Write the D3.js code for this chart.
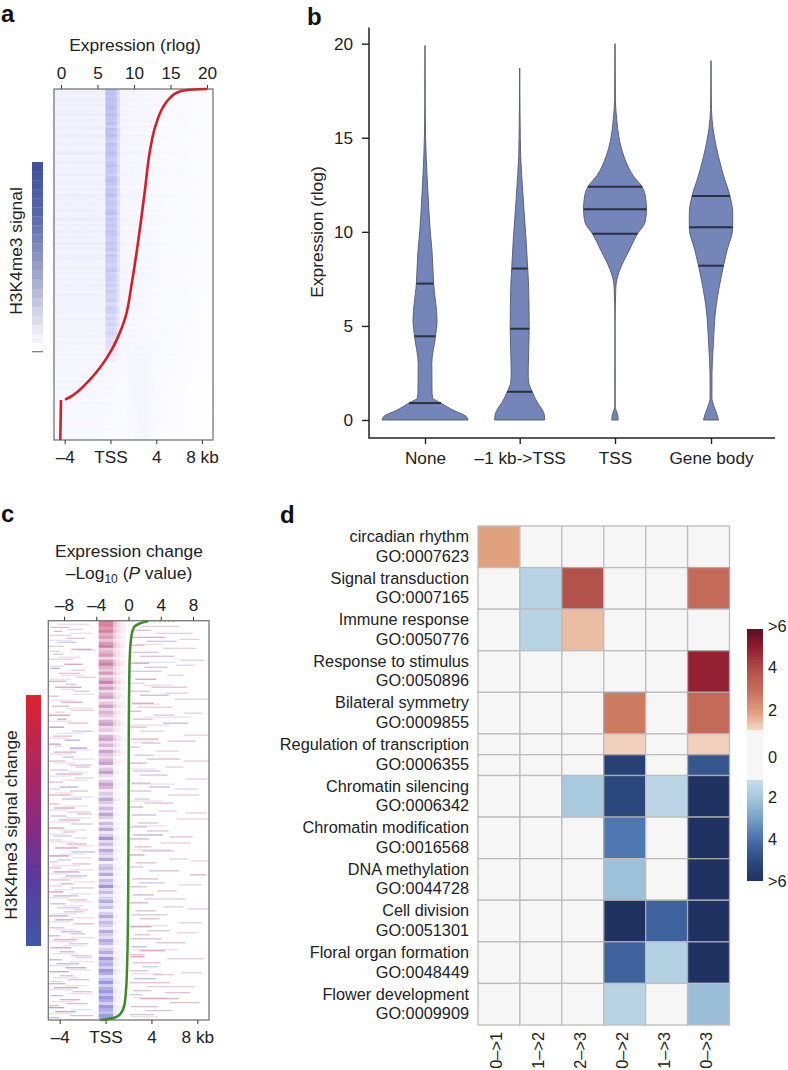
<!DOCTYPE html>
<html><head><meta charset="utf-8">
<script src="https://cdn.jsdelivr.net/npm/d3@7"></script>
<style>
html,body{margin:0;padding:0;background:#fff}
svg{display:block}
text{font-family:"Liberation Sans",Arial,sans-serif;fill:#222;font-size:17.4px}
.tick text{font-family:"Liberation Sans",Arial,sans-serif;fill:#222}
</style></head><body>
<svg id="c" width="788" height="1070"></svg>
<script>
// ---------- Panel a ----------
const aTopTicks=[0,5,10,15,20];
const kbTicks=[-4,0,4,8];
const kbLabels=["–4","TSS","4","8 kb"];
const redRank=[0,0.3,0.9,2.6,5.1,10.8,17.4,28.8,43,55.3,65.2,70.7,75.2,79.5,83.8,87.4,88.5];
const redExpr=[20,17.3,16,14.9,14,12.9,12.2,11.5,10.6,9.7,8.8,7.8,6.7,5.3,3.5,1.5,0.55];
const redTailRank=[88.6,100];
const redTailExpr=[0,-0.1];
const aTssLevel=[9,9,8,9,8,9,9,8,9,8,8,9,7,9,8,9,8,7,9,8,8,9,8,7,8,9,8,8,7,8,9,8,7,8,8,9,7,8,8,7,8,9,7,8,7,8,7,8,8,7,7,8,7,8,6,8,7,7,6,7,8,6,7,7,6,7,6,7,6,6,7,5,6,7,6,5,6,5,6,5,5,6,5,4,5,4,4,3,3,2,2,1,1,1,0,0,0,0,0,0,0,0,0,0,0,0,0,0,0,0,0,0,0,0,0,0,0];
const aFlankLevel=[2,2,1.6,2,1.8,2.2,1.7,2,2.3,1.8,2,1.6,2.2,1.9,1.6,2.3,2,1.7,2.1,1.6,2,2.4,1.7,1.9,2.2,1.6,2,1.8,2.3,1.7,1.9,2.2,1.6,2,1.7,2.4,1.9,1.6,2.1,1.8,2.2,1.6,2,2.3,1.7,1.9,1.6,2.2,1.8,2,1.6,2.3,1.8,2,1.6,1.9,2.2,1.7,1.8,2,1.5,2.1,1.7,1.9,1.6,2,1.7,1.5,2,1.8,1.6,1.9,1.5,1.8,1.6,1.4,1.9,1.5,1.7,1.4,1.8,1.5,1.6,1.3,1.7,1.4,1.5,1.2,1.6,1.3,1.4,1.2,1.4,1.1,1.3,1.2,1,1.3,1.1,1.2,1,1.2,1.1,0.9,1.2,1,1.1,0.9,1.1,1,0.9,1.1,0.9,1,1,0.9,1];
const aFlankKb=[-5.1,-1,-0.6,1,3,5,7,9.3];
const aFlankWeight=[1,1,0.95,0.75,0.6,0.42,0.25,0.12];
const aBandKb=[-0.62,-0.58,0.25,0.55,0.9];
const aBandWeight=[0,1,1,0.6,0];
const aBumpKb=[1.2,2.7,4.4];
const aBumpWeight=[0,1,0];
const aBumpRank=[70,82,100];
const aBumpLevel=[0,1,0.9];
// ---------- Panel b ----------
const violinCats=["None","–1 kb->TSS","TSS","Gene body"];
const yTicksB=[0,5,10,15,20];
const violinValues=[
 [0,0.2,0.5,0.9,1.2,1.6,3,4.45,5.3,7.2,9,10,12,14,15,17,19.9],
 [0,0.3,0.5,1,1.5,2,2.5,4.85,7,8.05,9.5,11,13,14,15,17,18.7],
 [0,0.3,0.7,5,7,7.5,8,9,9.9,10.5,11.2,12,12.4,13,14,15,16,17,20],
 [0,0.3,0.8,1.2,2.5,4,6,7,8.2,9,10.2,11,11.9,13,14,15,16,17,19.1]];
const violinHalf=[
 [43,41,29,16,7.5,7,6.8,10.5,12,8.7,7,5.3,3,1.2,0.6,0.2,0.1],
 [25,24.5,23,17,12.5,9,8.5,9.5,9,8,6.5,4.5,2,1,0.6,0.2,0.1],
 [3.2,2.6,0.2,0.1,0.8,2,5,14,22.5,30,31.5,30,27,18,9,4,1.7,0.4,0.1],
 [7.5,6,2.5,0.9,1,2.3,5,8,12.5,16,21.7,21.7,19,12.5,7.5,3.5,1,0.3,0.1]];
const violinQuart=[[0.9,4.45,7.25],[1.5,4.85,8.05],[9.9,11.2,12.4],[8.2,10.25,11.9]];
// ---------- Panel c ----------
const cTopTicks=[-8,-4,0,4,8];
const greenRank=[0.1,0.65,1.9,4.8,11.5,30,52,69,85.5,92.3,96.4,98.5,99.5,100];
const greenExpr=[2.47,1.45,0.62,0.3,0.12,0.03,0,-0.04,-0.16,-0.3,-0.53,-1.03,-1.85,-3.5];
const greenDots=[2.9,3.3,3.9,4.5,5,5.6];
const cBandLevel=[9,9,8,9,7,8,6,8,9,6,7,8,5,8,9,7,6,8,5,7,9,6,8,5,7,8,4,6,8,5,7,6,4,7,8,5,6,3,7,8,5,7,4,8,6,5,7,8,4,6,8,5,3,6,8,7,4,6,5,8,6,4,7,5,8,6,3,7,5,8,4,6,9,5,7,4,8,6,5,8,3,6,7,5,8,4,7,6,9,5,7,4,6,8,5,7,3,6,8,5,7,6,4,8,6,5,8,7,4,6,8,5,9,7,8,6,9,8,5,7,9,6,8,9,7,9,8,6,9,8,7,9,8];
const cBandSignal=[10,10,9,9,9,8,8,8,7,7,8,7,7,6,7,6,6,7,6,5,6,6,5,5,6,4,5,5,4,5,4,4,5,3,4,4,3,4,3,3,4,2,3,3,2,3,2,3,1,2,2,1,2,1,2,1,1,0,1,0,1,-1,0,-1,0,0,-2,-1,-1,-2,0,-2,-2,-1,-3,-2,-2,-1,-3,-2,-3,-2,-3,-4,-2,-3,-3,-4,-3,-2,-4,-3,-4,-3,-5,-3,-4,-4,-3,-5,-4,-5,-4,-3,-5,-4,-5,-6,-5,-4,-6,-5,-6,-5,-7,-6,-6,-5,-7,-6,-7,-6,-7,-8,-7,-7,-8,-8,-7,-8,-8,-9,-9];
const cBandFadeKb=[0.65,0.95,1.3,1.75];
const cBandFade=[0.5,0.3,0.14];
const cLeft=[[6,-4.8,-3.2,3],[10,-4.5,-3.8,-4],[14,-4.9,-3,2],[17,-3.4,-1.8,3],[21,-4.2,-2.5,-3],[25,-5,-3.6,2],[28,-3,-1.2,4],[33,-4.6,-3.7,-3],[38,-4.9,-2.8,2],[43,-3.6,-2,5],[47,-4.8,-4,-5],[52,-4.1,-2.2,3],[56,-2.6,-0.9,2],[60,-5,-3.4,4],[66,-4.4,-2.1,5],[70,-2.8,-1.4,-3],[75,-5,-4.1,3],[81,-3.9,-2,4],[85,-4.7,-3.2,-4],[89,-3,-1,2],[94,-5,-3.1,5],[98,-4.2,-3.4,-5],[102,-3.3,-1.5,3],[106,-4.9,-3.6,6],[110,-2.9,-1.1,-3],[115,-4.6,-2.9,3],[119,-3.6,-2.2,-5],[123,-5,-3.9,5],[127,-3.1,-1.6,-6],[131,-4.5,-2.6,4],[136,-3.7,-2.8,-4],[140,-5,-3.5,3],[144,-3.2,-1.2,3],[149,-4.8,-3.3,-3],[153,-4.3,-2,4],[157,-2.7,-1,-2],[161,-5,-3.7,3],[166,-4,-2.4,-5],[170,-3.1,-1.5,3],[174,-4.9,-3,4],[178,-3.8,-2.1,-4],[183,-5,-4,3],[187,-4.5,-2.7,5],[191,-3.3,-1.3,2],[195,-4.8,-3.4,-4],[199,-4.1,-2.2,4],[203,-3,-1.1,-3],[207,-5,-3.6,5],[211,-3.7,-2.6,3],[215,-4.6,-2.9,-3],[219,-4.9,-3.8,2],[223,-3.4,-1.7,4],[227,-4.4,-2.4,5],[231,-3,-0.9,-4],[235,-4.9,-3.2,6],[239,-4.2,-3,-3],[243,-2.9,-1.3,3],[247,-5,-3.9,3],[251,-4.5,-2.3,5],[255,-3.5,-1.6,-4],[259,-4.9,-3.1,3],[263,-3.9,-2.8,4],[267,-3,-1,-3],[271,-5,-3.7,5],[275,-4.6,-2.4,-4],[279,-3.3,-1.6,3],[283,-4.8,-3.5,4],[287,-4.2,-2.2,-3],[291,-3.6,-1.9,3],[295,-5,-3.3,5],[299,-4.4,-2.8,-5],[303,-2.8,-1,3],[307,-4.9,-3.6,3],[311,-3.9,-2.1,-4],[315,-5,-4,4],[319,-4.5,-2.5,4],[323,-3.2,-1.5,-3],[327,-4.8,-3,5],[331,-4,-2.7,-4],[335,-3,-1.2,3],[339,-5,-3.8,-4],[343,-4.3,-2.3,4],[347,-3.5,-1.7,-5],[351,-4.9,-3.2,5],[355,-4,-2.8,3],[359,-3.3,-1.4,-3],[363,-5,-3.5,4],[367,-4.5,-2.4,-5],[371,-2.9,-1.2,3],[375,-4.8,-3.7,-4],[379,-4,-2.2,4],[383,-3.4,-1.6,3],[387,-5,-3.6,-6],[391,-4.4,-2.6,5],[395,-3.1,-1.1,3],[397,-4.9,-4,-4],
[8,-3.2,-2,2],[30,-4.8,-4,2],[49,-3,-1.8,2],[63,-3.5,-2.6,-3],[91,-4.4,-3.6,2],[125,-4.4,-3.8,2],[146,-2.6,-1.4,-3],[168,-4.9,-4,2],[193,-2.5,-1.2,3],[217,-2.8,-1.6,-2],[241,-4.9,-4.2,3],[265,-4.9,-3.8,2],[289,-2.8,-1.5,2],[313,-3,-1.8,3],[337,-2.6,-1.2,-2],[361,-4.8,-3.8,2],[385,-4.9,-4.1,3]];
const cRight=[[5,3.1,6.4,2],[9,2.2,4,3],[12,4.4,7.6,2],[16,2.3,5.2,4],[20,3.6,6.2,-3],[24,2.1,3.4,3],[27,5,7.9,2],[31,2.4,4.6,-3],[35,3,6,3],[39,6.5,8.6,2],[42,2.2,3.8,4],[46,3.4,5.4,3],[50,2.1,4.9,-3],[54,5.4,6.8,2],[58,2.6,4.4,5],[62,2.2,3.4,-2],[66,4,7.1,3],[70,2.1,3.8,3],[74,3,5.5,-4],[78,6,9,2],[82,2.3,4.2,4],[86,2.8,5.8,2],[90,2.1,3.1,-4],[94,4.2,6,3],[98,2.4,4.1,3],[102,5,7.2,-4],[106,2.1,3.6,3],[110,3,5.1,-2],[114,6.8,9,2],[118,2.2,4.6,4],[122,3.2,4.8,-3],[126,2.1,3,3],[130,4.4,6.4,2],[134,2.5,4.2,-3],[138,3.6,6.5,3],[142,2.1,3.6,4],[146,5.2,6.8,2],[150,2.4,4.8,-3],[154,3,5.4,3],[158,7,8.9,2],[162,2.2,3.9,3],[166,3.8,5.6,-4],[170,2.1,4,3],[174,5.4,8.2,2],[178,2.5,3.8,-3],[182,3.4,5.9,3],[186,2.1,3.3,4],[190,4.6,6.2,2],[194,2.3,4.4,-4],[198,6.2,9.2,2],[202,2.8,4.6,3],[206,2.1,3.6,-3],[210,3.6,5.5,3],[214,2.4,5,-5],[218,2.1,3.8,4],[222,4.8,7.4,2],[226,2.5,4,3],[230,3.2,6,-3],[234,2.1,3.4,5],[238,5.6,7.2,2],[242,2.6,4.4,3],[246,2.1,3.3,-3],[250,3.8,6.4,3],[254,7.4,8.8,4],[258,2.3,4.6,3],[262,2.9,5.2,-3],[266,2.1,3.6,3],[270,4.5,6.2,3],[274,2.4,4.2,-4],[278,3.4,7,2],[282,2.1,3.7,4],[286,5,6.8,2],[290,2.6,4.4,3],[294,2.2,5.4,-3],[298,3,4.7,3],[302,6.4,8.4,2],[306,2.1,4,4],[310,3.6,5.6,-3],[314,2.5,3.9,3],[318,2.1,4.9,3],[322,4.4,7,3],[326,2.3,3.6,-4],[330,3,5.2,4],[334,2.1,3.4,3],[338,5.4,8.6,2],[342,2.4,4.8,3],[346,3.2,4.6,-3],[350,2.1,3.7,3],[354,4.2,6,2],[358,2.5,4.4,-4],[362,2.1,5.6,3],[366,3.6,7.8,2],[370,2.4,4,3],[374,2.1,3.2,-3],[378,3,6.4,4],[382,5.6,8.2,3],[386,2.2,4.6,3],[390,3.4,5.8,-3],[394,2.1,4.2,3],
[18,6.5,8.2,2],[44,6.2,7.8,-2],[72,5.2,7.2,2],[92,6.8,8.4,2],[120,5.4,7.8,3],[140,6.8,9.2,2],[168,6,8,-2],[192,7,8.8,2],[216,5.6,7.6,3],[240,7.4,9,2],[264,6.4,8.4,-2],[288,7.2,9.1,2],[312,6.2,8,2],[336,2.2,3.4,5],[352,6.6,8.4,2],[372,5.2,7.4,3]];
const cFaint=[[3,-4.2,-1.4,1],[12,-3.1,-1.1,1],[19,-5,-2.9,-1],[23,2.6,5,1],[29,-2.5,-0.8,1],[36,-4.1,-2.2,1],[41,2.4,6.2,-1],[45,-5,-3.6,1],[54,-3.9,-1.9,-1],[58,-4.9,-3,1],[64,3.2,5.8,1],[68,-4,-2.6,1],[73,-2.9,-1,-1],[79,-4.8,-2.7,1],[83,2.2,4.8,1],[87,-3.4,-1.2,1],[96,3.4,7.4,-1],[100,-5,-2.9,1],[104,2.2,5.6,1],[112,-4.3,-1.8,-1],[117,-5,-3.2,1],[121,2.4,4.2,1],[129,-3.2,-1.2,1],[133,-4.8,-2.9,1],[138,-3,-0.9,-1],[142,-4.5,-2.7,1],[148,2.2,4.4,1],[151,-3.3,-1.5,1],[155,-4.9,-3,-1],[159,-3.8,-1.6,1],[163,2.3,6,1],[172,-4.4,-2.8,1],[176,-3,-1,-1],[180,2.2,5,1],[185,-3.6,-1.5,1],[189,-5,-3.3,1],[197,-3.5,-1.3,-1],[201,-4.9,-2.6,1],[205,2.4,5.2,1],[209,-4.2,-1.7,1],[213,-5,-3.4,-1],[221,-4.8,-2.7,1],[225,-3.1,-1,1],[229,2.3,5.6,1],[233,-4,-1.8,-1],[237,-3,-1.2,1],[245,-4.6,-2.2,1],[249,-3.2,-1,1],[253,-5,-3.3,-1],[257,-4,-2,1],[261,-2.8,-0.9,1],[269,-4.5,-2.7,1],[273,-3.1,-1.3,-1],[277,-5,-3.2,1],[281,-2.9,-1.1,1],[285,-3.7,-1.9,1],[293,-4.7,-2.5,-1],[297,-3.1,-1,1],[301,-5,-3.1,1],[305,2.2,5.4,1],[309,-4.5,-2.6,-1],[317,-3,-1,1],[321,-4.9,-2.8,1],[325,-3.7,-1.8,-1],[329,2.5,6.4,1],[333,-4.7,-2.4,1],[341,-3.1,-1,1],[345,-5,-3.1,-1],[349,-3.2,-1.3,1],[353,2.3,5,1],[357,-4.6,-2.4,1],[365,-3.5,-1.6,-1],[369,-5,-2.9,1],[373,-3.2,-1.1,1],[377,2.4,5.4,1],[381,-4.7,-2.7,1],[389,-3,-1.2,-1],[393,-5,-2.9,1],[396,2.2,4.6,1],[399,-3.6,-1.4,1]];
// ---------- Panel d ----------
const goLabels=["circadian rhythm","Signal transduction","Immune response","Response to stimulus","Bilateral symmetry","Regulation of transcription","Chromatin silencing","Chromatin modification","DNA methylation","Cell division","Floral organ formation","Flower development"];
const goIds=["GO:0007623","GO:0007165","GO:0050776","GO:0050896","GO:0009855","GO:0006355","GO:0006342","GO:0016568","GO:0044728","GO:0051301","GO:0048449","GO:0009909"];
const transitions=["0–>1","1–>2","2–>3","0–>2","1–>3","0–>3"];
const rowHeights=[1,1,1,1,1,0.5,0.5,1,1,1,1,1,1];
const matrix=[
 [2,0,0,0,0,0],
 [0,-1.6,4,0,0,3.2],
 [0,-1.6,1.6,0,0,0],
 [0,0,0,0,0,5],
 [0,0,0,2.8,0,3.2],
 [0,0,0,1.3,0,1.3],
 [0,0,0,-5.4,0,-4.7],
 [0,0,-2,-5.2,-1.5,-6],
 [0,0,0,-3.9,0,-6],
 [0,0,0,-2.2,0,-6],
 [0,0,0,-6,-4.4,-6],
 [0,0,0,-4.4,-1.7,-6],
 [0,0,0,-1.6,0,-2.3]];
const cbarTicks=[[6,">6"],[4,"4"],[2,"2"],[0,"0"],[-2,"2"],[-4,"4"],[-6,">6"]];
const divergeStops=[-6,-5,-4,-3,-2,-1.21,-1.2,1.2,1.21,2,3,4,5,6];
const divergeColors=["#1f3262","#2d4b80","#4a72ae","#78a3c9","#a8c9de","#c8dcea","#f6f6f6","#f6f6f6","#f3d6c5","#e0a17f","#c8705c","#b2534b","#952032","#5a0f25"];

const svg=d3.select("#c");
const boxGray="#777", tickSize=17.2;
const defs=svg.append("defs");
defs.append("filter").attr("id","soft").attr("x","-5%").attr("y","-5%").attr("width","110%").attr("height","110%")
  .append("feGaussianBlur").attr("stdDeviation","0.7 0.4");
function clip(id,x,y,w,h){defs.append("clipPath").attr("id",id).append("rect").attr("x",x).attr("y",y).attr("width",w).attr("height",h);}
function panelLabel(t,x,y){svg.append("text").attr("x",x).attr("y",y).style("font-size","24px").style("font-weight","700").style("fill","#111").text(t);}
function styleAxis(g){g.select(".domain").remove();g.selectAll(".tick line").attr("stroke","#444").attr("stroke-width",1.1);g.selectAll(".tick text").style("font-size",tickSize+"px");}
function rotated(t,x,y){svg.append("text").attr("transform",`translate(${x},${y}) rotate(-90)`).attr("text-anchor","middle").attr("dominant-baseline","central").text(t);}

panelLabel("a",1,22);panelLabel("b",307,25);panelLabel("c",1,522);panelLabel("d",280,523);

// ---- A ----
const aBox={x:54,y:89,w:159,h:351};
clip("clipA",aBox.x,aBox.y,aBox.w,aBox.h);
const aExpr=d3.scaleLinear().domain([0,20]).range([61,207]);
const aKb=d3.scaleLinear().domain([-4,8]).range([64.7,202]);
const aRank=d3.scaleLinear().domain([0,100]).range([aBox.y,aBox.y+aBox.h]);
const aRowY=d3.scaleLinear().domain([0,aTssLevel.length]).range([aBox.y,aBox.y+aBox.h]);
const aColor=d3.scaleLinear().domain([0,10]).range(["#ffffff","#b2b6f0"]);
const flankW=d3.scaleLinear().domain(aFlankKb).range(aFlankWeight).clamp(true);
const bandW=d3.scaleLinear().domain(aBandKb).range(aBandWeight).clamp(true);
const bumpW=d3.scaleLinear().domain(aBumpKb).range(aBumpWeight).clamp(true);
const bumpR=d3.scaleLinear().domain(aBumpRank).range(aBumpLevel).clamp(true);
const aCols=d3.range(aKb.invert(aBox.x),aKb.invert(aBox.x+aBox.w)+0.1,0.25);
const aHeat=svg.append("g").attr("clip-path","url(#clipA)").append("g").attr("filter","url(#soft)");
aTssLevel.forEach((lv,i)=>{
  aCols.forEach(k=>{
    const pct=i/aTssLevel.length*100;
    const v=Math.max(lv*bandW(k),aFlankLevel[i]*flankW(k))+0.9*bumpR(pct)*bumpW(k);
    aHeat.append("rect").attr("x",aKb(k)).attr("y",aRowY(i)).attr("width",aKb(0.25)-aKb(0)+0.4).attr("height",aRowY(1)-aRowY(0)+0.4).attr("fill",aColor(v));
  });
});
svg.append("rect").attr("x",aBox.x).attr("y",aBox.y).attr("width",aBox.w).attr("height",aBox.h).attr("fill","none").attr("stroke",boxGray).attr("stroke-width",1.3);
const redLine=d3.line().curve(d3.curveMonotoneY);
const redPts=redRank.map((r,i)=>[aExpr(redExpr[i]),aRank(r)]);
svg.append("path").attr("d",redLine(redPts)).attr("fill","none").attr("stroke","#d0202b").attr("stroke-width",2.6);
svg.append("path").attr("d",d3.line()(redTailRank.map((r,i)=>[aExpr(redTailExpr[i]),aRank(r)]))).attr("fill","none").attr("stroke","#d0202b").attr("stroke-width",2.6);
let g=svg.append("g").attr("transform",`translate(0,${aBox.y})`).call(d3.axisTop(aExpr).tickValues(aTopTicks).tickSize(4).tickPadding(6).tickFormat(d3.format("d")));styleAxis(g);
g=svg.append("g").attr("transform",`translate(0,${aBox.y+aBox.h})`).call(d3.axisBottom(aKb).tickValues(kbTicks).tickSize(4).tickPadding(7).tickFormat((d,i)=>kbLabels[i]));styleAxis(g);
svg.append("text").attr("x",135).attr("y",45).attr("text-anchor","middle").attr("dominant-baseline","central").text("Expression (rlog)");
rotated("H3K4me3 signal",16,251);
const aBar=d3.scaleLinear().domain([0,1]).range([162,343]);
const aBarColor=d3.scaleLinear().domain([0,0.25,0.6,0.92,1]).range(["#3f5299","#5766a8","#a0a6cd","#eeeef6","#fbfbfd"]);
d3.range(0,1,0.05).forEach(t=>svg.append("rect").attr("x",32).attr("y",aBar(t)).attr("width",11).attr("height",aBar(0.05)-aBar(0)+0.3).attr("fill",aBarColor(t)));
svg.append("line").attr("x1",32).attr("x2",43).attr("y1",351.7).attr("y2",351.7).attr("stroke","#777").attr("stroke-width",1.2);

// ---- B ----
const bY=d3.scaleLinear().domain([0,20]).range([420,43.7]);
const bX=d3.scaleOrdinal().domain(violinCats).range([425,519.7,615,711]);
violinCats.forEach((c,i)=>{
  const vals=violinValues[i],hw=violinHalf[i],cx=bX(c);
  const pts=vals.map((v,j)=>({v,h:hw[j]}));
  const area=d3.area().curve(d3.curveMonotoneY).y(d=>bY(d.v)).x0(d=>cx-d.h).x1(d=>cx+d.h);
  svg.append("path").attr("d",area(pts)+"Z").attr("fill","#7385b9").attr("stroke","#555a6c").attr("stroke-width",0.9).attr("stroke-linejoin","round");
  const hs=d3.scaleLinear().domain(vals).range(hw);
  violinQuart[i].forEach(q=>svg.append("line").attr("x1",cx-hs(q)).attr("x2",cx+hs(q)).attr("y1",bY(q)).attr("y2",bY(q)).attr("stroke","#2b303e").attr("stroke-width",2));
});
g=svg.append("g").attr("transform","translate(369,0)").call(d3.axisLeft(bY).tickValues(yTicksB).tickSize(7).tickPadding(9).tickFormat(d3.format("d")));styleAxis(g);
g.selectAll(".tick line").attr("stroke","#222").attr("stroke-width",1.4);
g=svg.append("g").attr("transform","translate(0,438)").call(d3.axisBottom(bX).tickValues(violinCats).tickSize(6).tickPadding(8));styleAxis(g);
g.selectAll(".tick line").attr("stroke","#222").attr("stroke-width",1.4);
svg.append("path").attr("d",d3.line()([[369,27.5],[369,438],[775,438]])).attr("fill","none").attr("stroke","#222").attr("stroke-width",1.5);
rotated("Expression (rlog)",317,232);

// ---- C ----
const cBox={x:48.3,y:620.7,w:160.7,h:399.3};
clip("clipC",cBox.x,cBox.y,cBox.w,cBox.h);
const cExpr=d3.scaleLinear().domain([-8,8]).range([64,193]);
const cKb=d3.scaleLinear().domain([-4,8]).range([59.7,197.3]);
const cRank=d3.scaleLinear().domain([0,400]).range([cBox.y,cBox.y+cBox.h]);
const cPct=d3.scaleLinear().domain([0,100]).range([cBox.y,cBox.y+cBox.h]);
const cBandY=d3.scaleLinear().domain([0,cBandLevel.length]).range([cBox.y,cBox.y+cBox.h]);
const sigColor=d3.scaleLinear().domain([-10,-3,2,10]).range(["#5a5fd0","#6f50b8","#8e3f98","#c0305f"]);
const cHeat=svg.append("g").attr("clip-path","url(#clipC)").append("g").attr("filter","url(#soft)");
cBandLevel.forEach((lv,i)=>{
  const col=sigColor(cBandSignal[i]);
  const a=(lv/9)*(lv/9)*0.62;
  cHeat.append("rect").attr("x",cKb(-0.6)).attr("y",cBandY(i)).attr("width",cKb(0.65)-cKb(-0.6)).attr("height",cBandY(1)-cBandY(0)+0.1).attr("fill",col).attr("fill-opacity",a);
  cBandFade.forEach((f,j)=>{
    cHeat.append("rect").attr("x",cKb(cBandFadeKb[j])).attr("y",cBandY(i)).attr("width",cKb(cBandFadeKb[j+1])-cKb(cBandFadeKb[j])).attr("height",cBandY(1)-cBandY(0)+0.1).attr("fill",col).attr("fill-opacity",a*f*(i<45?1:0.5));
  });
});
cLeft.concat(cRight,cFaint).forEach(([r,s,e,v])=>{
  cHeat.append("rect").attr("x",cKb(s)).attr("y",cRank(r)).attr("width",cKb(e)-cKb(s)).attr("height",1.3).attr("fill",sigColor(v>0?7:-6)).attr("fill-opacity",0.1+Math.abs(v)*0.075);
});
svg.append("rect").attr("x",cBox.x).attr("y",cBox.y).attr("width",cBox.w).attr("height",cBox.h).attr("fill","none").attr("stroke",boxGray).attr("stroke-width",1.3);
const greenPts=greenRank.map((r,i)=>[cExpr(greenExpr[i]),cPct(r)]);
svg.append("path").attr("d",d3.line().curve(d3.curveMonotoneY)(greenPts)).attr("fill","none").attr("stroke","#3f8a2a").attr("stroke-width",2.5);
greenDots.forEach(e=>svg.append("circle").attr("cx",cExpr(e)).attr("cy",cBox.y+0.8).attr("r",0.8).attr("fill","#7faa70"));
g=svg.append("g").attr("transform",`translate(0,${cBox.y})`).call(d3.axisTop(cExpr).tickValues(cTopTicks).tickSize(4).tickPadding(6).tickFormat(d=>d<0?"–"+(-d):d));styleAxis(g);
g=svg.append("g").attr("transform",`translate(0,${cBox.y+cBox.h})`).call(d3.axisBottom(cKb).tickValues(kbTicks).tickSize(4).tickPadding(7).tickFormat((d,i)=>kbLabels[i]));styleAxis(g);
svg.append("text").attr("x",129).attr("y",551).attr("text-anchor","middle").attr("dominant-baseline","central").text("Expression change");
const tl=svg.append("text").attr("x",129).attr("y",579).attr("text-anchor","middle");
tl.append("tspan").text("–Log");
tl.append("tspan").attr("dy",4).style("font-size","12px").text("10");
tl.append("tspan").attr("dy",-4).text(" (");
tl.append("tspan").style("font-style","italic").text("P");
tl.append("tspan").text(" value)");
rotated("H3K4me3 signal change",11,825);
const cBar=d3.scaleLinear().domain([0,1]).range([695,946]);
const cBarColor=d3.scaleLinear().domain([0,0.5,0.72,1]).range(["#dc2430","#8c2a80","#5b3a9c","#3f58a8"]);
d3.range(0,1,0.01).forEach(t=>svg.append("rect").attr("x",26).attr("y",cBar(t)).attr("width",15).attr("height",cBar(0.01)-cBar(0)+0.4).attr("fill",cBarColor(t)).attr("shape-rendering","crispEdges"));

// ---- D ----
const dFont="16.3px";
const dX=d3.scaleBand().domain(transitions).range([478,729.5]);
const cum=d3.cumsum(rowHeights);
const dY=d3.scaleLinear().domain([0,12]).range([526,1025]);
const divColor=d3.scaleLinear().domain(divergeStops).range(divergeColors);
matrix.forEach((row,i)=>{
  const top=i?cum[i-1]:0;
  row.forEach((v,j)=>{
    svg.append("rect").attr("x",dX(transitions[j])).attr("y",dY(top)).attr("width",dX.bandwidth()).attr("height",dY(cum[i])-dY(top)).attr("fill",divColor(v)).attr("stroke",Math.abs(v)<2.5?"#bdbdbd":"#aaaaaa").attr("stroke-width",1.3);
  });
});
goLabels.forEach((t,k)=>{
  svg.append("text").attr("x",469).attr("y",536+41.6*k).attr("text-anchor","end").attr("dominant-baseline","central").style("font-size",dFont).text(t);
  svg.append("text").attr("x",469).attr("y",555.5+41.6*k).attr("text-anchor","end").attr("dominant-baseline","central").style("font-size",dFont).text(goIds[k]);
});
transitions.forEach(t=>{
  svg.append("text").attr("transform",`translate(${dX(t)+dX.bandwidth()/2-2.5},1032) rotate(-90)`).attr("text-anchor","end").attr("dominant-baseline","central").style("font-size",dFont).text(t);
});
const barY=d3.scaleLinear().domain([6,-6]).range([629,880.6]);
d3.range(6,-6,-0.1).forEach(v=>svg.append("rect").attr("x",746.7).attr("y",barY(v)).attr("width",16.3).attr("height",barY(5.9)-barY(6)+0.4).attr("fill",divColor(v-0.05)).attr("shape-rendering","crispEdges"));
const labelY=d3.scaleOrdinal().domain(cbarTicks.map((d,i)=>i)).range([626,667,710,757,797,839,881]);
cbarTicks.forEach((d,i)=>svg.append("text").attr("x",768).attr("y",labelY(i)).attr("dominant-baseline","central").style("font-size",dFont).text(d[1]));
</script>
</body></html>
